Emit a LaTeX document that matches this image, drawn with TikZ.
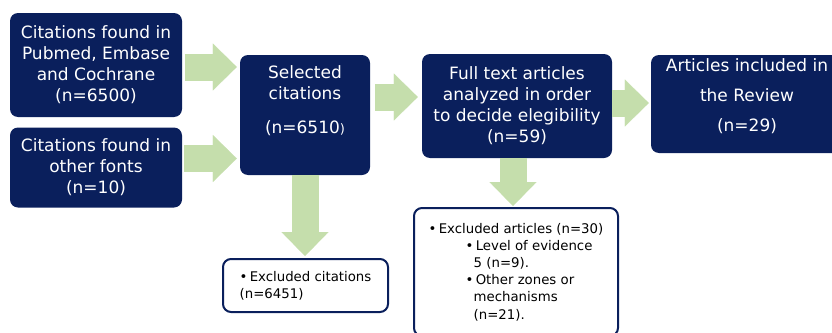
\documentclass[tikz,border=0pt]{standalone}
\usepackage{fontspec}
\setmainfont{DejaVu Sans}
\usetikzlibrary{arrows.meta,calc}

\definecolor{navy}{RGB}{10,31,92}
\definecolor{paleGreen}{RGB}{197,222,172}

\begin{document}
\begin{tikzpicture}[x=1pt,y=-1pt]

\tikzset{
  dark box/.style={
    fill=navy,
    rounded corners=8pt,
    text=white,
    align=center,
    inner sep=0pt,
    font=\fontsize{17}{21}\selectfont,
  },
  light box/.style={
    draw=navy,
    line width=2pt,
    fill=white,
    rounded corners=8pt,
    align=left,
    inner sep=0pt,
    font=\fontsize{13.3}{17.2}\selectfont,
  },
  block arrow/.style={
    draw=paleGreen,
    line width=27pt,
    -{Triangle[width=47pt,length=24pt,line width=0.1pt]},
  }
}

\useasboundingbox (0,0) rectangle (832,332);
\clip (0,0) rectangle (832,332);

% Sources
\node[dark box, minimum width=172pt, minimum height=104pt] (pubmed) at (96,65)
  {Citations found in\\Pubmed, Embase\\and Cochrane\\(n=6500)};
\node[dark box, minimum width=172pt, minimum height=80pt] (other) at (96,167.5)
  {Citations found in\\other fonts\\(n=10)};

% Screening steps
\node[dark box, minimum width=130pt, minimum height=120pt] (selected) at (305,115)
  {Selected\\citations\\[13pt](n=6510{\fontsize{13}{15}\selectfont)}\\[9pt]\mbox{}};
\node[dark box, minimum width=190pt, minimum height=104pt] (fulltext) at (517,106)
  {Full text articles\\analyzed in order\\to decide elegibility\\(n=59)};
\node[dark box, minimum width=192pt, minimum height=98pt] (included) at (747,104)
  {Articles included in\\[9pt]the Review\\[9pt](n=29)\\[-4pt]\mbox{}};

% Exclusions
\node[light box, minimum width=165pt, minimum height=53pt] (exclcit) at (305.5,285.5)
  {\textbullet\,Excluded citations\\(n=6451)};
\node[light box, minimum width=204pt, minimum height=128pt] (exclart) at (516,272)
  {\textbullet\,Excluded articles (n=30)\\
   \hspace*{37pt}\textbullet\,Level of evidence\\
   \hspace*{45pt}5 (n=9).\\
   \hspace*{37pt}\textbullet\,Other zones or\\
   \hspace*{45pt}mechanisms\\
   \hspace*{45pt}(n=21).};

% Arrows
\draw[block arrow, shorten <=3pt, shorten >=3pt] ($(pubmed.east)+(0,2)$) -- ($(pubmed.east -| selected.west)+(0,2)$);
\draw[block arrow, shorten <=2pt, shorten >=3pt] ($(other.east)+(0,-9)$) -- ($(other.east -| selected.west)+(0,-9)$);
\draw[block arrow, shorten <=5pt, shorten >=4pt] ($(selected.east)+(0,-18)$) -- ($(selected.east -| fulltext.west)+(0,-18)$);
\draw[block arrow, shorten >=2pt] ($(fulltext.east)+(0,-3)$) -- ($(fulltext.east -| included.west)+(0,-3)$);
\draw[block arrow, shorten >=2pt] (selected.south) -- (selected.south |- exclcit.north);
\draw[block arrow, shorten >=1pt] ($(fulltext.south)+(-4,0)$) -- ($(fulltext.south |- exclart.north)+(-4,0)$);

\end{tikzpicture}
\end{document}
